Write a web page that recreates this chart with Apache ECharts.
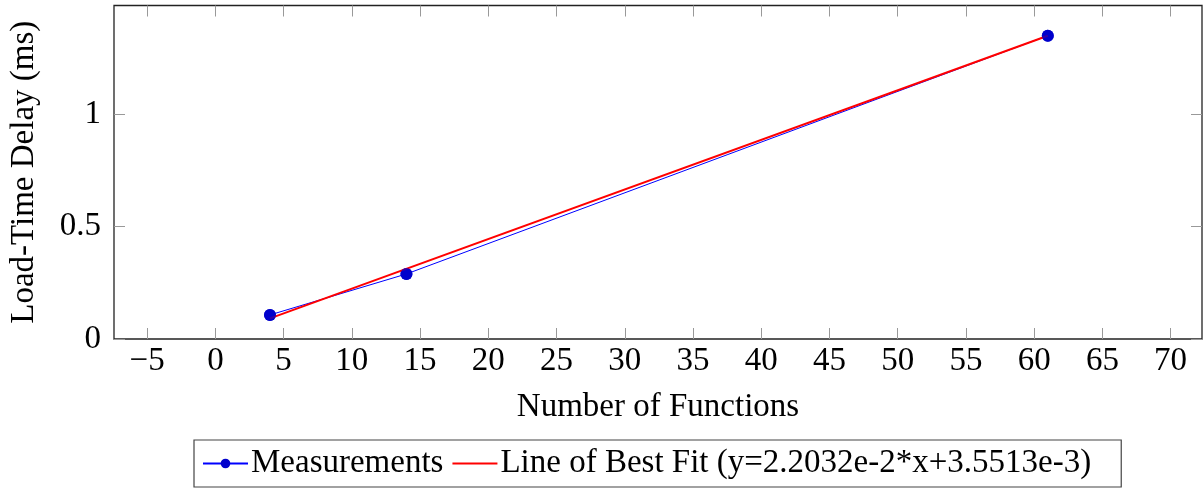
<!DOCTYPE html>
<html>
<head>
<meta charset="utf-8">
<script src="https://cdn.jsdelivr.net/npm/echarts@6/dist/echarts.min.js"></script>
<style>
  html, body { margin: 0; padding: 0; background: #fff; }
  #chart { width: 1204px; height: 491px; }
</style>
</head>
<body>
<div id="chart"></div>
<script>
// Measured load-time delay per number of functions
const measX = [4, 14, 61];
const measY = [0.107, 0.289, 1.348];

// Least-squares fit coefficients
const fitSlope = 2.2032e-2;
const fitIntercept = 3.5513e-3;
const fitX = [4, 61];
const fitLabel = 'Line of Best Fit (y=2.2032e-2*x+3.5513e-3)';

// Axis ticks
const xTicks = [-5, 0, 5, 10, 15, 20, 25, 30, 35, 40, 45, 50, 55, 60, 65, 70];
const yTicks = [0, 0.5, 1];
const yTickLabels = ['0', '0.5', '1'];

const FONT = '"Liberation Serif", "DejaVu Serif", serif';
const FS = 33;

const measData = measX.map((x, i) => [x, measY[i]]);
const fitData = fitX.map(x => [x, fitSlope * x + fitIntercept]);

const X_MIN = -7.43, X_MAX = 72.3, Y_MIN = 0, Y_MAX = 1.482;

const tickStyle = { show: true, inside: true, length: 11, lineStyle: { color: '#999', width: 1 } };
const noLine = { show: false, onZero: false };

const chart = echarts.init(document.getElementById('chart'), null, { renderer: 'canvas' });
chart.setOption({
  animation: false,
  backgroundColor: '#fff',
  grid: {
    left: 113, right: 2, top: 5.5, bottom: 152,
    show: true, borderColor: '#222', borderWidth: 1.3, backgroundColor: 'transparent'
  },
  xAxis: [{
    type: 'value', min: X_MIN, max: X_MAX, position: 'bottom',
    name: 'Number of Functions', nameLocation: 'middle', nameGap: 52,
    nameTextStyle: { fontFamily: FONT, fontSize: FS, color: '#000' },
    axisLine: noLine,
    splitLine: { show: false },
    axisTick: Object.assign({ customValues: xTicks }, tickStyle),
    axisLabel: {
      customValues: xTicks, margin: 6,
      fontFamily: FONT, fontSize: FS, color: '#000',
      formatter: v => String(v).replace('-', '\u2212')
    }
  }, {
    type: 'value', min: X_MIN, max: X_MAX, position: 'top',
    axisLine: noLine, splitLine: { show: false },
    axisTick: Object.assign({ customValues: xTicks }, tickStyle),
    axisLabel: { show: false }
  }],
  yAxis: [{
    type: 'value', min: Y_MIN, max: Y_MAX, position: 'left',
    name: 'Load-Time Delay (ms)', nameLocation: 'middle', nameGap: 73, nameRotate: 90,
    nameTextStyle: { fontFamily: FONT, fontSize: FS, color: '#000' },
    axisLine: noLine, splitLine: { show: false },
    axisTick: Object.assign({ customValues: yTicks }, tickStyle),
    axisLabel: {
      customValues: yTicks, margin: 13,
      fontFamily: FONT, fontSize: FS, color: '#000',
      formatter: v => yTickLabels[yTicks.indexOf(v)]
    }
  }, {
    type: 'value', min: Y_MIN, max: Y_MAX, position: 'right',
    axisLine: noLine, splitLine: { show: false },
    axisTick: Object.assign({ customValues: yTicks }, tickStyle),
    axisLabel: { show: false }
  }],
  legend: {
    left: 194, top: 440,
    padding: [7, 30, 7, 8],
    borderColor: '#444', borderWidth: 1.2,
    itemGap: 8, itemWidth: 45, itemHeight: 12,
    textStyle: { fontFamily: FONT, fontSize: FS, color: '#000', padding: [0, 0, 0, -2] },
    data: ['Measurements', { name: fitLabel, itemStyle: { opacity: 0 } }]
  },
  series: [{
    name: 'Measurements', type: 'line', data: measData, z: 2,
    symbol: 'circle', symbolSize: 12, showSymbol: true,
    lineStyle: { color: '#0000ff', width: 1 },
    itemStyle: { color: '#0000cc' }
  }, {
    name: fitLabel, type: 'line', data: fitData, z: 3,
    symbol: 'none',
    lineStyle: { color: '#ff0000', width: 2 },
    itemStyle: { color: '#ff0000' }
  }, {
    // markers redrawn above the fit line
    name: 'Measurements', type: 'scatter', data: measData, z: 4,
    symbol: 'circle', symbolSize: 12,
    itemStyle: { color: '#0000cc' }
  }]
});
</script>
</body>
</html>
